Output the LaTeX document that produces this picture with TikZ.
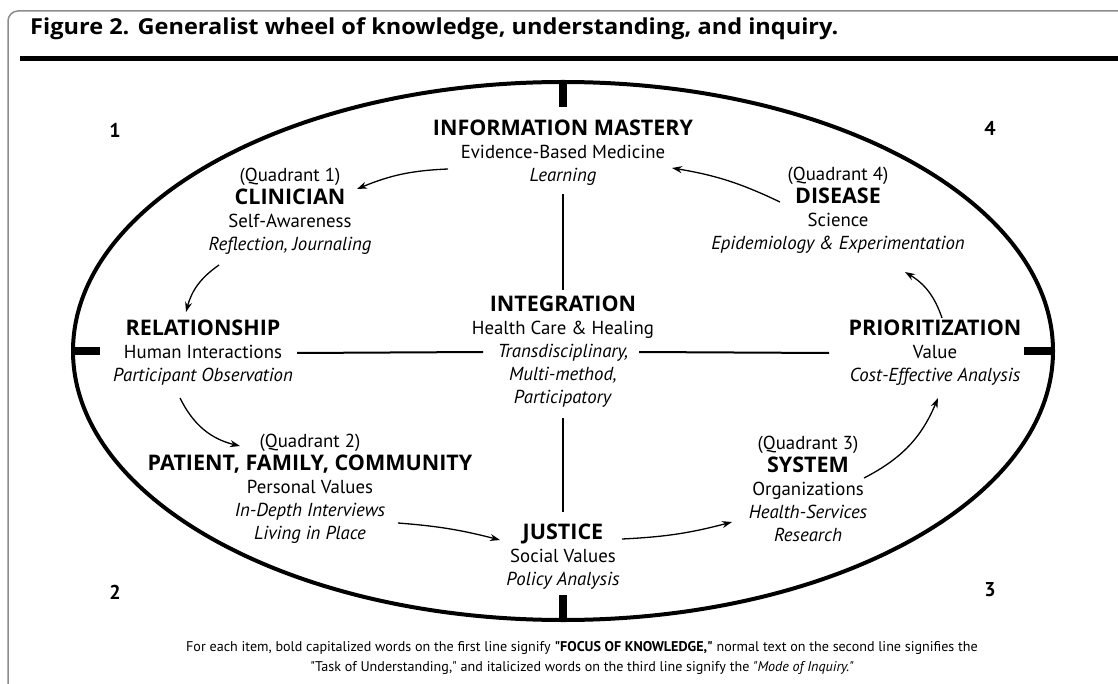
\documentclass[tikz,border=0pt]{standalone}
\usepackage{fontspec}
\setmainfont{PT Sans}
\newfontfamily\headfont{Open Sans}
\newfontfamily\titlefont[FakeStretch=1.07]{Open Sans}
\usetikzlibrary{arrows.meta,calc}

\newcommand{\focus}[1]{{\headfont\fontsize{21.5}{23}\selectfont\bfseries #1}}
\newcommand{\inquiry}[1]{\textit{#1}}
\newcommand{\qmark}{\textquotedbl}

\begin{document}
\begin{tikzpicture}[
    x=1pt, y=1pt,
    item/.style={align=center, inner sep=2pt, font=\fontsize{18.8}{23}\selectfont},
    quad/.style={font=\fontsize{20}{24}\selectfont\bfseries},
    wheel/.style={line width=4pt},
    tick/.style={line width=8pt},
    axis/.style={line width=2pt},
    arrow/.style={-{Stealth[length=10pt,width=7pt]}, line width=1.3pt},
]
\useasboundingbox (0,0) rectangle (1118,-684);

% --- Frame and title ---
\draw[black!45, line width=1.5pt, rounded corners=10pt] (8,-690) -- (8,-11) -- (1125,-11);
\node[anchor=base west, inner sep=0pt, font=\titlefont\fontsize{22}{26}\selectfont\bfseries] (title) at (30,-35)
    {Figure 2. Generalist wheel of knowledge, understanding, and inquiry.};
\draw[line width=5pt] (20,-59) -- (1120,-59);

% --- Wheel with its four ticks ---
\coordinate (hub) at (563,-351);
\draw[wheel] (hub) ellipse [x radius=490, y radius=269];
\draw[tick] (hub) ++(0,269) -- ++(0,-25);
\draw[tick] (hub) ++(0,-269) -- ++(0,25);
\draw[tick] (hub) ++(-490,0) -- ++(27,0);
\draw[tick] (hub) ++(490,0) -- ++(-29,0);

% --- Quadrant numbers ---
\node[quad] (q1) at (115,-130) {1};
\node[quad] (q2) at (115,-592) {2};
\node[quad] (q3) at (990,-590) {3};
\node[quad] (q4) at (990,-128) {4};

% --- Items ---
\node[item] (im) at (563,-153) {\focus{INFORMATION MASTERY}\\Evidence-Based Medicine\\\inquiry{Learning}};
\node[item] (clin) at (290,-211) {(Quadrant 1)\\\focus{CLINICIAN}\\Self-Awareness\\\inquiry{Reflection, Journaling}};
\node[item] (rel) at (203,-353) {\focus{RELATIONSHIP}\\Human Interactions\\\inquiry{Participant Observation}};
\node[item] (integ) at (563,-352) {\focus{INTEGRATION}\\Health Care \& Healing\\\inquiry{Transdisciplinary,}\\\inquiry{Multi-method,}\\\inquiry{Participatory}};
\node[item] (dis) at (838,-210) {(Quadrant 4)\\\focus{DISEASE}\\Science\\\inquiry{Epidemiology \& Experimentation}};
\node[item] (prio) at (935,-353) {\focus{PRIORITIZATION}\\Value\\\inquiry{Cost-Effective Analysis}};
\node[item] (pfc) at (310,-489) {(Quadrant 2)\\\focus{PATIENT, FAMILY, COMMUNITY}\\Personal Values\\\inquiry{In-Depth Interviews}\\\inquiry{Living in Place}};
\node[item] (just) at (563,-557) {\focus{JUSTICE}\\Social Values\\\inquiry{Policy Analysis}};
\node[item] (sys) at (808,-489) {(Quadrant 3)\\\focus{SYSTEM}\\Organizations\\\inquiry{Health-Services}\\\inquiry{Research}};

% --- Cross lines ---
\draw[axis] ([xshift=94pt]rel.center) -- ([xshift=-80pt]integ.center);
\draw[axis] ([xshift=76pt]integ.center) -- ([xshift=-106pt]prio.center);
\draw[axis, shorten <=6pt, shorten >=4pt] (im.south) -- (integ.north);
\draw[axis, shorten <=8pt, shorten >=10pt] (integ.south) -- (just.north);

% --- Arrows round the wheel ---
\draw[arrow] ($(im)+(-115,-16)$) to[bend right=10] ($(clin)+(67,22)$);
\draw[arrow] ($(clin)+(-71,-54)$) to[bend right=20] ($(rel)+(-17,41)$);
\draw[arrow] ($(rel)+(-23,-45)$) to[bend right=25] ($(pfc)+(-70,43)$);
\draw[arrow] ($(pfc)+(88,-34)$) to[bend left=5] ($(just)+(-63,17)$);
\draw[arrow] ($(just)+(59,18)$) to[bend right=6] ($(sys)+(-76,-33)$);
\draw[arrow] ($(sys)+(56,11)$) to[bend right=20] ($(prio)+(3,-45)$);
\draw[arrow] ($(prio)+(7,35)$) to[bend right=20] ($(dis)+(67,-62)$);
\draw[arrow] ($(dis)+(-58,8)$) to[bend right=8] ($(im)+(109,-15)$);

% --- Key ---
\node[align=center, inner sep=0pt, font=\fontsize{14.1}{20}\selectfont] (key) at (582,-658)
    {For each item, bold capitalized words on the first line signify \textbf{\qmark FOCUS OF KNOWLEDGE,\qmark} normal text on the second line signifies the\\
     \qmark Task of Understanding,\qmark{} and italicized words on the third line signify the \textit{\qmark Mode of Inquiry.\qmark}};
\end{tikzpicture}
\end{document}
